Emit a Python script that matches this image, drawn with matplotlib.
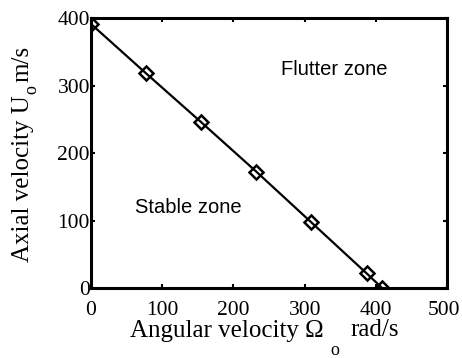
import matplotlib
matplotlib.use('Agg')
import matplotlib.pyplot as plt
import matplotlib.transforms as mtransforms

# values
omega = [0, 77, 155, 232, 309, 387, 409]
u_axial = [392, 319, 246, 173, 98, 22, 0]
x_ticks = [0, 100, 200, 300, 400, 500]
y_ticks = [0, 100, 200, 300, 400]

plt.rcParams['font.family'] = 'Liberation Serif'

fig = plt.figure(figsize=(4.62, 3.58), dpi=100)
ax = fig.add_axes([0.1963, 0.1947, 0.7719, 0.7542])

ax.plot(omega, u_axial, color='black', linewidth=1.6, marker='D',
        markersize=7.5, markerfacecolor='none', markeredgewidth=1.8,
        markeredgecolor='black')

ax.set_xlim(0, 500)
ax.set_ylim(0, 400)
ax.set_xticks(x_ticks)
ax.set_yticks(y_ticks)
ax.tick_params(direction='in', length=3, width=1.5, top=True, right=True,
               labelsize=15.5)
ax.tick_params(axis='x', pad=9.5)
ax.tick_params(axis='y', pad=0.5)
for s in ax.spines.values():
    s.set_linewidth(2.2)

# pull the last x tick label a little inward so it stays inside the figure
last = ax.get_xticklabels()[-1]
last.set_transform(last.get_transform() +
                   mtransforms.ScaledTranslation(-3 / 100, 0, fig.dpi_scale_trans))

# x label with a dropped subscript, MATLAB style
lab_size = 18
tx = fig.text(130 / 462, 21.3 / 358, 'Angular velocity \u03a9', fontsize=lab_size,
              ha='left', va='baseline')
ax.annotate('o', xy=(1, 0), xycoords=tx, xytext=(5, -9.3), textcoords='offset points',
            fontsize=13, ha='left', va='baseline', annotation_clip=False)
ax.annotate('rad/s', xy=(1, 0), xycoords=tx, xytext=(19.5, 3.9), textcoords='offset points',
            fontsize=lab_size, ha='left', va='baseline', annotation_clip=False)

# y label, rotated
ty = fig.text(29 / 462, 96 / 358, 'Axial velocity U', fontsize=lab_size, rotation=90,
              rotation_mode='anchor', ha='left', va='baseline')
ax.annotate('o', xy=(1, 1), xycoords=ty, xytext=(2, 0.8), textcoords='offset points',
            fontsize=13, rotation=90, rotation_mode='anchor', ha='left', va='baseline',
            annotation_clip=False)
ax.annotate('m/s', xy=(1, 1), xycoords=ty, xytext=(-3.9, 9.5), textcoords='offset points',
            fontsize=lab_size, rotation=90, rotation_mode='anchor', ha='left', va='baseline',
            annotation_clip=False)

ax.text(267, 316, 'Flutter zone', family='Liberation Sans', fontsize=14.5, va='baseline')
ax.text(61.5, 111, 'Stable zone', family='Liberation Sans', fontsize=14.5, va='baseline')

fig.savefig('out.png', dpi=100)
